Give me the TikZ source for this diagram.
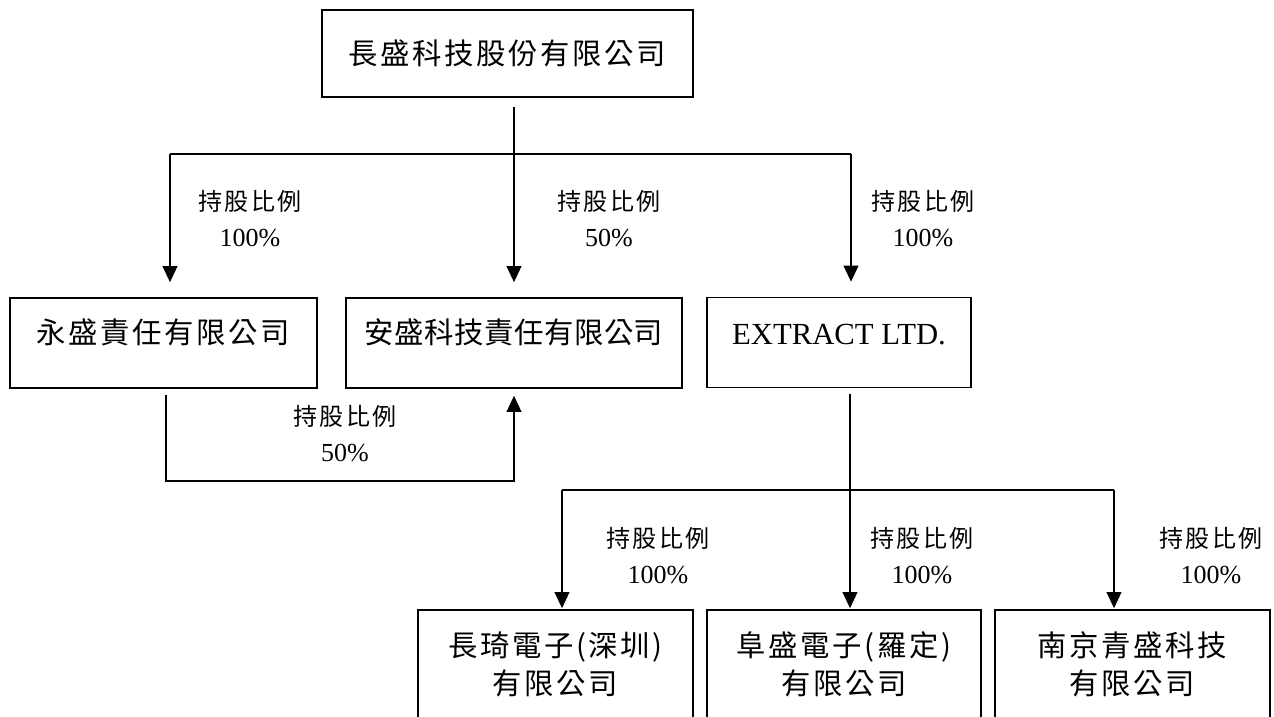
\documentclass[tikz,border=0pt]{standalone}
\usepackage{fontspec}
\setmainfont{Liberation Serif}
\newfontfamily\cjkbox[LetterSpace=9]{Noto Sans CJK TC}
\newfontfamily\cjklab[LetterSpace=10]{Noto Sans CJK TC}
\usetikzlibrary{arrows.meta}
\newcommand{\holding}[1]{{\cjklab\fontsize{18}{27}\selectfont 持股比例}\\#1}

\begin{document}
\begin{tikzpicture}[x=0.75pt,y=-0.75pt]

\tikzset{company/.style = {shape=rectangle,draw,line width=1.2pt,inner sep=0pt,align=center,font=\cjkbox\fontsize{22}{28.5}\selectfont}}
\tikzset{midbox/.style = {company,minimum height=67.5pt,text depth=17.5pt}}
\tikzset{share/.style = {align=center,font=\fontsize{19.5}{27}\selectfont}}
\tikzset{link/.style = {-{Triangle[length=12pt,width=11pt]},line width=1.2pt}}
\useasboundingbox (0,0) rectangle (1274,717);
\clip (0,0) rectangle (1274,717);
% companies
\node[company, minimum width=278.25pt, minimum height=65.25pt] (top) at (507.5,53.5) {長盛科技股份有限公司};
\node[midbox, minimum width=230.25pt] (ys) at (163.5,343) {永盛責任有限公司};
\node[midbox, minimum width=252pt, font=\cjkbox\addfontfeature{LetterSpace=2}\fontsize{22}{28.5}\selectfont] (as) at (514,343) {安盛科技責任有限公司};
\node[midbox, minimum width=198pt, text depth=12pt, font=\fontsize{23}{28}\selectfont] (ex) at (839,342.5) {EXTRACT LTD.};
\node[company, minimum width=206.25pt, minimum height=81pt] (cq) at (555.5,664) {長琦電子(深圳)\\有限公司};
\node[company, minimum width=205.5pt, minimum height=81pt] (fs) at (844,664) {阜盛電子(羅定)\\有限公司};
\node[company, minimum width=206.25pt, minimum height=81pt] (nj) at (1132.5,664) {南京青盛科技\\有限公司};
% shares
\node[share] (p1) at (250,219) {\holding{100\%}};
\node[share] (p2) at (609,219) {\holding{50\%}};
\node[share] (p3) at (923,219) {\holding{100\%}};
\node[share] (p4) at (345,433.5) {\holding{50\%}};
\node[share] (p5) at (658,555.5) {\holding{100\%}};
\node[share] (p6) at (922,555.5) {\holding{100\%}};
\node[share] (p7) at (1211,555.5) {\holding{100\%}};
% branch points
\coordinate (h1) at (170,154);
\coordinate (h3) at (851,154);
\coordinate (lp) at (166,481);
\coordinate (h4) at (562,490);
\coordinate (h5) at (850,490);
\coordinate (h6) at (1114,490);
%edges
\draw[line width=1.2pt] (h1) -- (h3);
\draw[link, shorten <=6.75pt, shorten >=11.25pt] (top.south -| as.north) -- (as.north);
\draw[link, shorten >=11.25pt] (h1) -- (h1 |- ys.north);
\draw[link, shorten >=11.25pt] (h3) -- (h3 |- ex.north);
\draw[link, shorten <=4.5pt, shorten >=5.25pt] (lp |- ys.south) -- (lp) -- (lp -| as.south) -- (as.south);
\draw[line width=1.2pt] (h4) -- (h6);
\draw[link, shorten <=4.5pt, shorten >=0.75pt] (h5 |- ex.south) -- (h5 |- fs.north);
\draw[link, shorten >=0.75pt] (h4) -- (h4 |- cq.north);
\draw[link, shorten >=0.75pt] (h6) -- (h6 |- nj.north);
\end{tikzpicture}
\end{document}
